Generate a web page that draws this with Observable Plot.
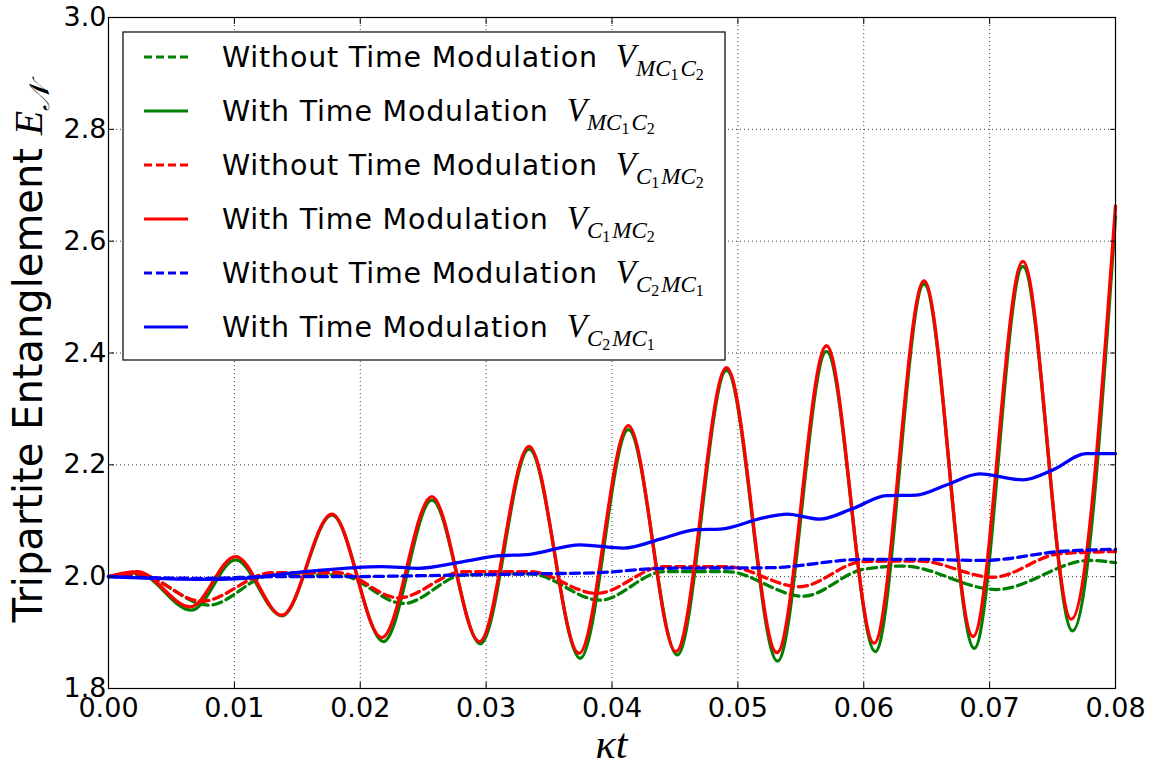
<!DOCTYPE html>
<html><head><meta charset="utf-8">
<script src="https://cdn.jsdelivr.net/npm/d3@7"></script>
<script src="https://cdn.jsdelivr.net/npm/@observablehq/plot@0.6"></script>
<style>body{margin:0;background:#fff}</style>
</head><body><div id="chart"></div>
<script>
// ---- tick values ----
const xTicks = [0, 0.01, 0.02, 0.03, 0.04, 0.05, 0.06, 0.07, 0.08];
const yTicks = [1.8, 2.0, 2.2, 2.4, 2.6, 2.8, 3.0];

// ---- series ----
const greenDashT = [0, 0.0023, 0.00796, 0.013, 0.0183, 0.02344, 0.0282, 0.0335, 0.03905, 0.0441, 0.0491, 0.05518, 0.05995, 0.0631, 0.07053, 0.07794, 0.08];
const greenDashY = [2.0, 2.004, 1.949, 2.003, 2.003, 1.952, 2.003, 2.005, 1.958, 2.009, 2.009, 1.965, 2.013, 2.019, 1.977, 2.029, 2.025];

const greenSolidT = [0, 0.00228, 0.0066, 0.0101, 0.01378, 0.01775, 0.02185, 0.02569, 0.02955, 0.03341, 0.03748, 0.0413, 0.04518, 0.0491, 0.05315, 0.05704, 0.06092, 0.06479, 0.06878, 0.07264, 0.07658, 0.08];
const greenSolidY = [2.0, 2.007, 1.940, 2.030, 1.930, 2.110, 1.884, 2.137, 1.880, 2.228, 1.854, 2.263, 1.860, 2.369, 1.849, 2.403, 1.866, 2.523, 1.872, 2.555, 1.903, 2.645];

const redDashT = [0, 0.0023, 0.0074, 0.013, 0.0183, 0.02304, 0.0282, 0.0335, 0.03879, 0.0441, 0.0491, 0.0549, 0.05995, 0.0644, 0.07026, 0.07556, 0.08];
const redDashY = [2.0, 2.005, 1.956, 2.007, 2.007, 1.962, 2.009, 2.009, 1.970, 2.018, 2.018, 1.982, 2.027, 2.028, 1.999, 2.041, 2.045];

const redSolidT = [0, 0.00228, 0.0065, 0.0101, 0.01378, 0.01775, 0.02172, 0.02569, 0.02947, 0.03341, 0.03738, 0.0413, 0.04508, 0.0491, 0.0531, 0.05704, 0.06082, 0.06479, 0.06868, 0.07264, 0.07648, 0.08];
const redSolidY = [2.0, 2.009, 1.946, 2.036, 1.931, 2.112, 1.891, 2.143, 1.884, 2.233, 1.863, 2.270, 1.866, 2.374, 1.864, 2.413, 1.881, 2.529, 1.893, 2.564, 1.924, 2.663];

const blueDashT = [0, 0.0077, 0.013, 0.0183, 0.0256, 0.0335, 0.0388, 0.0441, 0.0525, 0.06, 0.0644, 0.0695, 0.0756, 0.08];
const blueDashY = [2.0, 1.997, 2.0, 2.0, 2.002, 2.005, 2.007, 2.015, 2.016, 2.031, 2.031, 2.029, 2.045, 2.049];

const blueSolidT = [0, 0.0077, 0.0101, 0.0156, 0.0217, 0.0246, 0.0282, 0.03085, 0.0335, 0.03746, 0.0409, 0.0441, 0.0467, 0.0486, 0.052, 0.0539, 0.0565, 0.05915, 0.0618, 0.06418, 0.06656, 0.0692, 0.07264, 0.07503, 0.07767, 0.08];
const blueSolidY = [2.0, 1.995, 1.996, 2.009, 2.018, 2.015, 2.027, 2.037, 2.040, 2.057, 2.051, 2.069, 2.084, 2.085, 2.105, 2.112, 2.103, 2.122, 2.145, 2.146, 2.164, 2.184, 2.173, 2.191, 2.220, 2.220];

const seriesLabels = ["Without Time Modulation", "With Time Modulation", "Without Time Modulation", "With Time Modulation", "Without Time Modulation", "With Time Modulation"];
const seriesSubs = [["MC","1","C","2"], ["MC","1","C","2"], ["C","1","MC","2"], ["C","1","MC","2"], ["C","2","MC","1"], ["C","2","MC","1"]];
const seriesColors = ["#008000", "#008000", "#ff0000", "#ff0000", "#0000ff", "#0000ff"];
const seriesDashed = [true, false, true, false, true, false];

const seriesData = [
  [greenDashT, greenDashY], [greenSolidT, greenSolidY],
  [redDashT, redDashY], [redSolidT, redSolidY],
  [blueDashT, blueDashY], [blueSolidT, blueSolidY]
].map(([t, y]) => t.map((x, i) => ({t: x, v: y[i]})));

const noText = () => "";
const lineMarks = seriesData.map((d, i) => Plot.line(d, {
  x: "t", y: "v", stroke: seriesColors[i], strokeWidth: 3.3,
  strokeDasharray: seriesDashed[i] ? "9,5" : null, curve: "monotone-x"
}));

const chart = Plot.plot({
  width: 1166, height: 768,
  marginLeft: 108, marginRight: 51, marginTop: 17, marginBottom: 80,
  x: {domain: [0, 0.08]},
  y: {domain: [1.8, 3.0]},
  style: {fontFamily: "DejaVu Sans", background: "white", color: "black"},
  marks: [
    Plot.gridX(xTicks, {stroke: "#000", strokeOpacity: 0.75, strokeDasharray: "1,3", strokeWidth: 1}),
    Plot.gridY(yTicks, {stroke: "#000", strokeOpacity: 0.75, strokeDasharray: "1,3", strokeWidth: 1}),
    ...lineMarks,
    Plot.frame({stroke: "black", strokeWidth: 1.2}),
    Plot.axisX(xTicks, {anchor: "bottom", tickSize: 0, tickPadding: 9, fontSize: 27, tickFormat: d3.format(".2f"), label: null}),
    Plot.axisY(yTicks, {anchor: "left", tickSize: 0, tickPadding: 2, fontSize: 27, tickFormat: d3.format(".1f"), label: null}),
    Plot.axisX(xTicks, {anchor: "bottom", tickSize: 6, dy: -6, tickFormat: noText, label: null}),
    Plot.axisX(xTicks, {anchor: "top", tickSize: 6, dy: 6, tickFormat: noText, label: null}),
    Plot.axisY(yTicks, {anchor: "left", tickSize: 6, dx: 6, tickFormat: noText, label: null}),
    Plot.axisY(yTicks, {anchor: "right", tickSize: 6, dx: -6, tickFormat: noText, label: null})
  ]
});
document.getElementById("chart").appendChild(chart);

const svg = d3.select(chart);
const mathFont = "'Liberation Serif', 'DejaVu Serif', serif";

// y label
const yl = svg.append("text")
  .attr("transform", "translate(42,353) rotate(-90)")
  .attr("text-anchor", "middle")
  .attr("font-family", "DejaVu Sans").attr("font-size", 40).attr("fill", "black");
yl.append("tspan").text("Tripartite Entanglement ");
yl.append("tspan").attr("font-family", mathFont).attr("font-style", "italic").text("E");
yl.append("tspan").attr("font-family", mathFont).attr("font-style", "italic").attr("font-size", 28).attr("dy", 7).text("\u{1D4A9}");

// x label
svg.append("text").attr("x", 611.5).attr("y", 758).attr("text-anchor", "middle")
  .attr("font-family", mathFont).attr("font-style", "italic").attr("font-size", 42).attr("fill", "black")
  .text("\u03BAt");

// legend
const lg = svg.append("g").attr("text-anchor", "start");
lg.append("rect").attr("x", 123).attr("y", 32).attr("width", 602).attr("height", 328)
  .attr("fill", "white").attr("stroke", "black").attr("stroke-width", 1.2);
seriesLabels.forEach((lab, i) => {
  const cy = 57 + 54 * i;
  lg.append("line").attr("x1", 144).attr("x2", 188).attr("y1", cy).attr("y2", cy)
    .attr("stroke", seriesColors[i]).attr("stroke-width", 3)
    .attr("stroke-dasharray", seriesDashed[i] ? "8,4" : null);
  const tx = lg.append("text").attr("x", 222).attr("y", cy + 10).attr("text-anchor", "start")
    .attr("font-family", "DejaVu Sans").attr("font-size", 28.5).attr("fill", "black");
  tx.append("tspan").attr("letter-spacing", 0.8).text(lab);
  const s = seriesSubs[i];
  tx.append("tspan").attr("dx", 18).attr("font-family", mathFont).attr("font-style", "italic").attr("font-size", 33).text("V");
  tx.append("tspan").attr("font-family", mathFont).attr("font-style", "italic").attr("font-size", 23).attr("dy", 9).text(s[0]);
  tx.append("tspan").attr("font-family", mathFont).attr("font-size", 16).attr("dy", 4).text(s[1]);
  tx.append("tspan").attr("dx", 2).attr("font-family", mathFont).attr("font-style", "italic").attr("font-size", 23).attr("dy", -4).text(s[2]);
  tx.append("tspan").attr("font-family", mathFont).attr("font-size", 16).attr("dy", 4).text(s[3]);
});
</script>
</body></html>
